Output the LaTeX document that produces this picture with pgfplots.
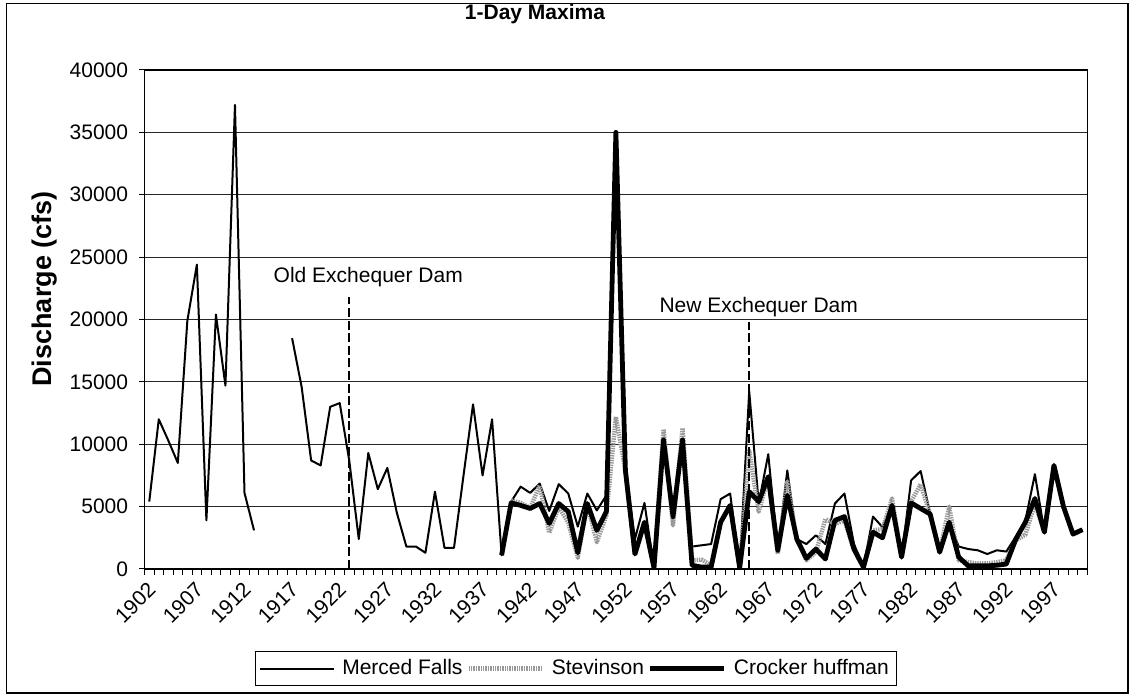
\documentclass[border=0pt]{standalone}
\usepackage{fontspec}
\setmainfont{Liberation Sans}
\usepackage{pgfplots}
\pgfplotsset{compat=1.18}
\usepackage{pgfplotstable}

\pgfplotstableread{
year mf
1902 5400
1903 12000
1904 10300
1905 8500
1906 19900
1907 24400
1908 3900
1909 20400
1910 14700
1911 37200
1912 6100
1913 3100
1914 nan
1915 nan
1916 nan
1917 18500
1918 14600
1919 8700
1920 8300
1921 13000
1922 13300
1923 8700
1924 2400
1925 9300
1926 6400
1927 8100
1928 4500
1929 1800
1930 1800
1931 1300
1932 6200
1933 1700
1934 1700
1935 7500
1936 13200
1937 7500
1938 12000
1939 1100
1940 5400
1941 6600
1942 6100
1943 6850
1944 4650
1945 6800
1946 6050
1947 3400
1948 6050
1949 4700
1950 5900
1951 35000
1952 7900
1953 2400
1954 5300
1955 100
1956 10350
1957 4200
1958 10350
1959 1800
1960 1900
1961 2000
1962 5600
1963 6050
1964 100
1965 14250
1966 5250
1967 9200
1968 1500
1969 7900
1970 2400
1971 2000
1972 2700
1973 2000
1974 5250
1975 6050
1976 2000
1977 150
1978 4200
1979 3350
1980 5100
1981 950
1982 7100
1983 7850
1984 4450
1985 1350
1986 3750
1987 1800
1988 1600
1989 1500
1990 1200
1991 1500
1992 1400
1993 2600
1994 3900
1995 7600
1996 2950
1997 8300
1998 5000
1999 2800
2000 3150
}\mercedtable

\pgfplotstableread{
year st
1940 5500
1941 5300
1942 4900
1943 6700
1944 2900
1945 5000
1946 3700
1947 900
1948 5200
1949 2150
1950 4300
1951 12200
1952 7900
1953 1100
1954 3600
1955 100
1956 11200
1957 3500
1958 11300
1959 700
1960 750
1961 300
1962 3750
1963 5100
1964 100
1965 9500
1966 4600
1967 7400
1968 1200
1969 7000
1970 2400
1971 700
1972 1350
1973 4000
1974 3600
1975 3900
1976 1500
1977 100
1978 3100
1979 3200
1980 5650
1981 950
1982 5400
1983 6800
1984 4400
1985 1350
1986 5000
1987 700
1988 550
1989 450
1990 450
1991 550
1992 700
1993 2300
1994 2750
1995 5250
1996 2950
1997 8300
1998 5000
1999 2800
2000 3150
}\stevinsontable

\pgfplotstableread{
year ch
1939 1100
1940 5300
1941 5100
1942 4850
1943 5250
1944 3650
1945 5250
1946 4600
1947 1300
1948 5250
1949 3100
1950 4600
1951 35000
1952 7900
1953 1200
1954 3750
1955 100
1956 10350
1957 4200
1958 10350
1959 300
1960 150
1961 150
1962 3750
1963 5100
1964 100
1965 6200
1966 5400
1967 7400
1968 1500
1969 5900
1970 2400
1971 850
1972 1600
1973 800
1974 3900
1975 4200
1976 1600
1977 150
1978 2950
1979 2500
1980 5100
1981 950
1982 5300
1983 4850
1984 4400
1985 1350
1986 3750
1987 950
1988 250
1989 250
1990 250
1991 300
1992 400
1993 2400
1994 3750
1995 5650
1996 2950
1997 8300
1998 5000
1999 2800
2000 3150
}\crockertable

\begin{document}
\fontsize{10.5}{12.6}\selectfont
\begin{tikzpicture}
\useasboundingbox (0,0) rectangle (566pt,348.5pt);
\draw[line width=0.6pt] (3.3pt,2pt) rectangle (564pt,346.8pt);
\node[font=\bfseries] at (267.5pt,341.5pt) {1-Day Maxima};
\node[font=\fontsize{13.5}{16}\selectfont\bfseries,rotate=90] at (22.5pt,204pt) {Discharge (cfs)};
\begin{axis}[
  at={(72.25pt,64pt)}, anchor=south west,
  scale only axis, width=471.4pt, height=249.5pt,
  xmin=1901.5, xmax=2000.5, ymin=0, ymax=40000,
  axis line style={line width=0.6pt},
  xtick={1902,1907,...,1997},
  ytick={0,5000,...,40000},
  minor xtick={1901.5,1902.5,...,2000.5},
  minor ytick={0,5000,...,40000},
  xtick pos=left, ytick pos=left,
  major tick length=0pt,
  minor tick length=2.8pt,
  tick align=outside,
  tick style={black,line width=0.5pt},
  scaled y ticks=false,
  ymajorgrids,
  grid style={black!85,line width=0.5pt},
  /pgf/number format/1000 sep={},
  /pgf/number format/assume math mode=true,
  ticklabel style={font=\fontsize{10.5}{12.6}\selectfont},
  yticklabel style={xshift=-4.5pt},
  xticklabel style={rotate=45,anchor=east,yshift=-7pt,xshift=-1.5pt},
  unbounded coords=jump,
  legend columns=3,
  legend style={at={(0.4577,-0.1994)},anchor=center,draw=black,line width=0.5pt,
    font=\fontsize{10.5}{12.6}\selectfont,inner xsep=2pt,inner ysep=2pt,
    /tikz/every odd column/.append style={column sep=1.5pt}},
  legend image code/.code={\draw[#1] (0pt,0pt) -- (37pt,0pt);},
  clip=false,
]
\addplot[black,line width=1pt,line join=round] table[x=year,y=mf] {\mercedtable};
\addlegendentry{Merced Falls}
\addplot[black!40,line width=2.2pt,line join=round,dash pattern=on 0.7pt off 0.5pt] table[x=year,y=st] {\stevinsontable};
\addlegendentry{Stevinson}
\addplot[black,line width=2.4pt,line join=round] table[x=year,y=ch] {\crockertable};
\addlegendentry{Crocker huffman}
\draw[dash pattern=on 4.5pt off 1.8pt,line width=0.75pt] (axis cs:1923,0) -- (axis cs:1923,21800);
\node at (axis cs:1925,23400) {Old Exchequer Dam};
\draw[dash pattern=on 4.5pt off 1.8pt,line width=0.75pt] (axis cs:1965,0) -- (axis cs:1965,19800);
\node at (axis cs:1966,21000) {New Exchequer Dam};
\end{axis}
\end{tikzpicture}
\end{document}
